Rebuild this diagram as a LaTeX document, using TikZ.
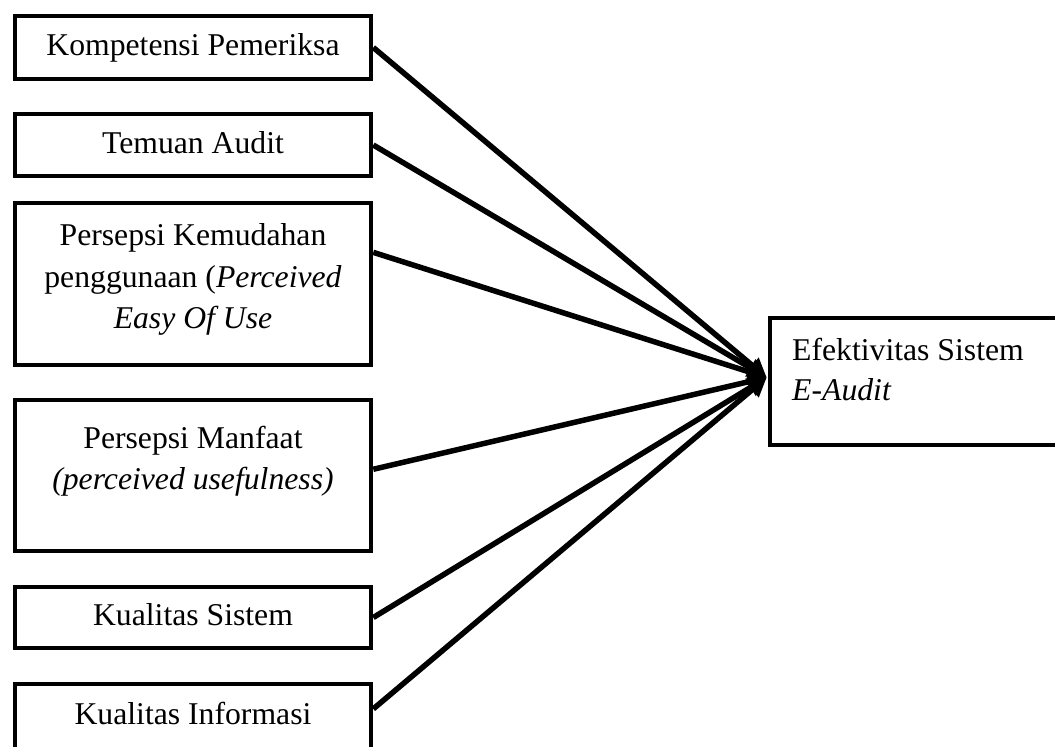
\documentclass[tikz,border=0pt]{standalone}
\usepackage{fontspec}
\setmainfont{Liberation Serif}
\usetikzlibrary{arrows.meta,calc}
\begin{document}
\begin{tikzpicture}[x=1pt,y=-1pt,
  box/.style={draw, line width=4.6pt, minimum width=356pt, inner sep=0pt},
  lbl/.style={font=\fontsize{31.7}{41}\selectfont, inner sep=0pt, anchor=base},
  lblw/.style={font=\fontsize{31.7}{41}\selectfont, inner sep=0pt, anchor=base west},
  conn/.style={line width=5.5pt, -{Triangle[length=19pt,width=19pt]}}]
\useasboundingbox (0,0) rectangle (1055,747);
\clip (0,0) rectangle (1055,747);
% left boxes
\node[box, minimum height=63pt]  (b1) at (193,47.5) {};
\node[box, minimum height=62pt]  (b2) at (193,145) {};
\node[box, minimum height=162pt] (b3) at (193,284) {};
\node[box, minimum height=151pt] (b4) at (193,475.5) {};
\node[box, minimum height=61pt]  (b5) at (193,617.5) {};
\node[box, minimum height=86pt]  (b6) at (193,727) {};
% right box
\node[box, minimum width=330pt, minimum height=127pt] (r) at (935,381.5) {};
% texts
\node[lbl] (t1)  at (193,55)  {Kompetensi Pemeriksa};
\node[lbl] (t2)  at (193,153) {Temuan Audit};
\node[lbl] (t3a) at (193,245) {Persepsi Kemudahan};
\node[lbl] (t3b) at (193,287) {penggunaan (\textit{Perceived}};
\node[lbl] (t3c) at (193,328) {\textit{Easy Of Use}};
\node[lbl] (t4a) at (193,448) {Persepsi Manfaat};
\node[lbl] (t4b) at (193,489) {\textit{(perceived usefulness)}};
\node[lbl] (t5)  at (193,625) {Kualitas Sistem};
\node[lbl] (t6)  at (193,724) {Kualitas Informasi};
\node[lblw] (r1) at (792,360) {Efektivitas Sistem};
\node[lblw] (r2) at (792,400) {\textit{E-Audit}};
% connectors
\coordinate (tip) at ($(r.west)+(-1,-4)$);
\coordinate (s3) at ($(b3.north east)!0.31!(b3.south east)$);
\coordinate (s4) at ($(b4.north east)!0.46!(b4.south east)$);
\coordinate (s6) at ($(b6.north east)!0.3!(b6.south east)$);
\draw[conn] (b1.east) -- (tip);
\draw[conn] (b2.east) -- (tip);
\draw[conn] (s3) -- (tip);
\draw[conn] (s4) -- (tip);
\draw[conn] (b5.east) -- (tip);
\draw[conn] (s6) -- (tip);
\end{tikzpicture}
\end{document}
